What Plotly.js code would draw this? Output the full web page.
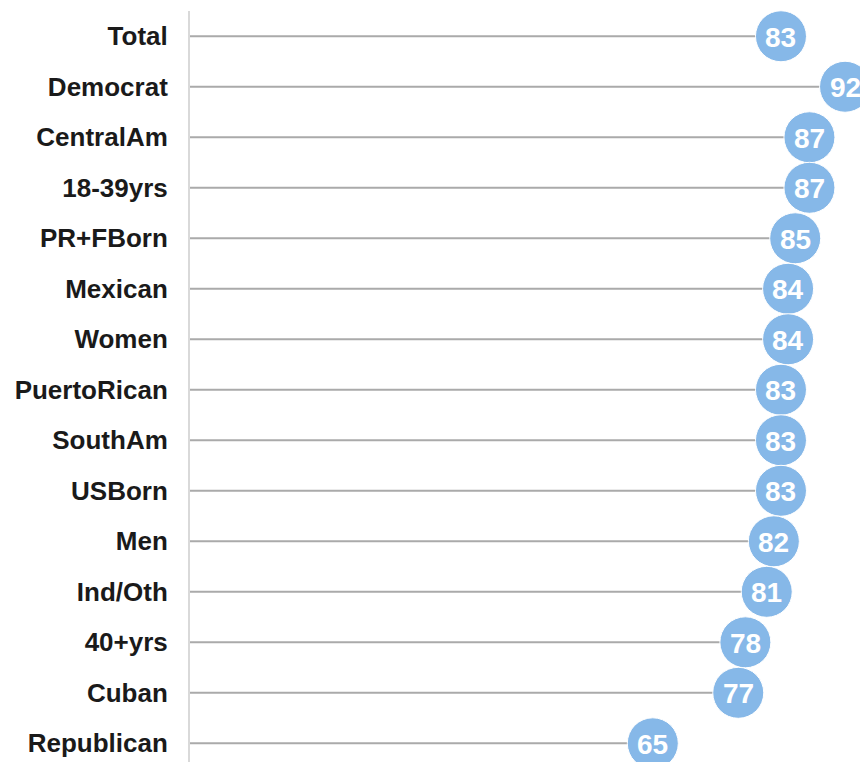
<!DOCTYPE html>
<html>
<head>
<meta charset="utf-8">
<script src="https://cdn.plot.ly/plotly-3.0.1.min.js"></script>
<style>html,body{margin:0;padding:0;background:#fff;}#chart{width:860px;height:762px;}</style>
</head>
<body>
<div id="chart"></div>
<script>
const categories = ["Total","Democrat","CentralAm","18-39yrs","PR+FBorn","Mexican","Women","PuertoRican","SouthAm","USBorn","Men","Ind/Oth","40+yrs","Cuban","Republican"];
const values = [83, 92, 87, 87, 85, 84, 84, 83, 83, 83, 82, 81, 78, 77, 65];

const stemX = [], stemY = [];
categories.forEach((c, i) => {
  stemX.push(0, values[i], null);
  stemY.push(c, c, null);
});

const stems = {
  type: 'scatter', mode: 'lines', x: stemX, y: stemY,
  line: {color: '#aaaaaa', width: 2}, hoverinfo: 'skip', showlegend: false
};
const dots = {
  type: 'scatter', mode: 'markers', x: values, y: categories,
  marker: {size: 51, color: '#86b8e8', line: {color: '#ffffff', width: 1}},
  cliponaxis: false, showlegend: false
};

const annotations = categories.map((c, i) => ({
  x: values[i], y: c, xref: 'x', yref: 'y', text: '<b>' + values[i] + '</b>',
  showarrow: false, xanchor: 'center', yanchor: 'middle', yshift: -1,
  font: {family: 'Liberation Sans, Arial, sans-serif', size: 28, color: '#ffffff'}
}));

const layout = {
  width: 860, height: 762,
  margin: {l: 190, r: 0, t: 11, b: 0},
  paper_bgcolor: '#ffffff', plot_bgcolor: '#ffffff',
  showlegend: false,
  annotations: annotations,
  xaxis: {range: [0, 94.1], showgrid: false, zeroline: false, showticklabels: false, showline: false, ticks: ''},
  yaxis: {
    type: 'category', categoryorder: 'array', categoryarray: categories,
    range: [14.37, -0.5], showgrid: false, zeroline: false,
    showline: true, linecolor: '#d9d9d9', linewidth: 2,
    ticks: '', ticklabelstandoff: 15,
    tickfont: {family: 'Liberation Sans, Arial, sans-serif', size: 26, color: '#1a1a1a', weight: 'bold'}
  }
};

Plotly.newPlot('chart', [stems, dots], layout, {displayModeBar: false, staticPlot: true});
</script>
</body>
</html>
